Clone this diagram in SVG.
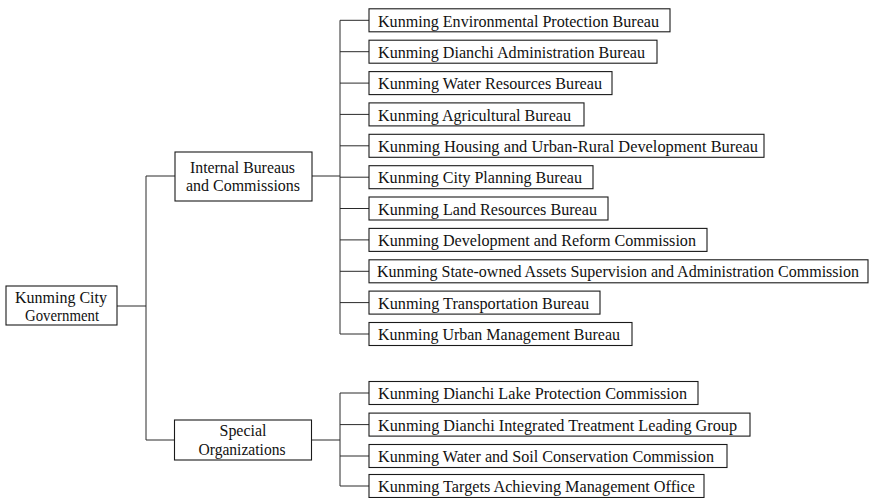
<svg xmlns="http://www.w3.org/2000/svg" width="871" height="498" viewBox="0 0 871 498">
<style>
.box{fill:#fff;stroke:#1a1a1a;stroke-width:1.1}
.ln{fill:none;stroke:#2a2a2a;stroke-width:1}
text{font-family:"Liberation Serif","Times New Roman",serif;font-size:17px;fill:#111}
.c{text-anchor:middle}
</style>
<rect width="871" height="498" fill="#fff"/>
<g id="connectors">
<path class="ln" d="M117 306H146M146 176V440M146 176H175M146 440H175"/>
<path class="ln" d="M312 176H340M340 20.3V334M340 20.3H369M340 51.7H369M340 83.1H369M340 114.4H369M340 145.8H369M340 177.2H369M340 208.5H369M340 239.9H369M340 271.3H369M340 302.6H369M340 334H369"/>
<path class="ln" d="M312 440H340M340 393V486M340 393H369M340 424.6H369M340 456H369M340 486H369"/>
</g>
<g id="gov"><rect class="box" x="6" y="286" width="111" height="39"/><text class="c" x="61" y="302.5" textLength="92" lengthAdjust="spacingAndGlyphs">Kunming City</text><text class="c" x="62" y="320.5" textLength="74" lengthAdjust="spacingAndGlyphs">Government</text></g>
<g id="internal"><rect class="box" x="175" y="152" width="137" height="49"/><text class="c" x="242.5" y="172.5" textLength="105" lengthAdjust="spacingAndGlyphs">Internal Bureaus</text><text class="c" x="243" y="191" textLength="114" lengthAdjust="spacingAndGlyphs">and Commissions</text></g>
<g id="special"><rect class="box" x="174.5" y="420" width="137" height="40"/><text class="c" x="243" y="436" textLength="47" lengthAdjust="spacingAndGlyphs">Special</text><text class="c" x="242" y="454.5" textLength="87" lengthAdjust="spacingAndGlyphs">Organizations</text></g>
<g id="b1"><rect class="box" x="369" y="8.8" width="301" height="23"/><text x="378" y="26.5" textLength="281" lengthAdjust="spacingAndGlyphs">Kunming Environmental Protection Bureau</text></g>
<g id="b2"><rect class="box" x="369" y="40.2" width="288" height="23"/><text x="378" y="57.9" textLength="267" lengthAdjust="spacingAndGlyphs">Kunming Dianchi Administration Bureau</text></g>
<g id="b3"><rect class="box" x="369" y="71.6" width="243" height="23"/><text x="378" y="89.3" textLength="224" lengthAdjust="spacingAndGlyphs">Kunming Water Resources Bureau</text></g>
<g id="b4"><rect class="box" x="369" y="102.9" width="215" height="23"/><text x="378" y="120.6" textLength="193" lengthAdjust="spacingAndGlyphs">Kunming Agricultural Bureau</text></g>
<g id="b5"><rect class="box" x="369" y="134.3" width="395" height="23"/><text x="378" y="152" textLength="380" lengthAdjust="spacingAndGlyphs">Kunming Housing and Urban-Rural Development Bureau</text></g>
<g id="b6"><rect class="box" x="369" y="165.7" width="224" height="23"/><text x="378" y="183.4" textLength="204" lengthAdjust="spacingAndGlyphs">Kunming City Planning Bureau</text></g>
<g id="b7"><rect class="box" x="369" y="197" width="239" height="23"/><text x="378" y="214.7" textLength="219" lengthAdjust="spacingAndGlyphs">Kunming Land Resources Bureau</text></g>
<g id="b8"><rect class="box" x="369" y="228.4" width="338" height="23"/><text x="378" y="246.1" textLength="318" lengthAdjust="spacingAndGlyphs">Kunming Development and Reform Commission</text></g>
<g id="b9"><rect class="box" x="369" y="259.8" width="499" height="23"/><text x="377" y="277.3" style="font-size:16px" textLength="482" lengthAdjust="spacingAndGlyphs">Kunming State-owned Assets Supervision and Administration Commission</text></g>
<g id="b10"><rect class="box" x="369" y="291.1" width="231" height="23"/><text x="378" y="308.8" textLength="211" lengthAdjust="spacingAndGlyphs">Kunming Transportation Bureau</text></g>
<g id="b11"><rect class="box" x="369" y="322.5" width="263" height="23"/><text x="378" y="340.2" textLength="242" lengthAdjust="spacingAndGlyphs">Kunming Urban Management Bureau</text></g>
<g id="s1"><rect class="box" x="369" y="381.5" width="329" height="23"/><text x="378" y="399.2" textLength="309" lengthAdjust="spacingAndGlyphs">Kunming Dianchi Lake Protection Commission</text></g>
<g id="s2"><rect class="box" x="369" y="413.1" width="381" height="23"/><text x="378" y="430.8" textLength="359" lengthAdjust="spacingAndGlyphs">Kunming Dianchi Integrated Treatment Leading Group</text></g>
<g id="s3"><rect class="box" x="369" y="444.5" width="358" height="23"/><text x="378" y="462.2" textLength="336" lengthAdjust="spacingAndGlyphs">Kunming Water and Soil Conservation Commission</text></g>
<g id="s4"><rect class="box" x="369" y="474.5" width="335" height="23"/><text x="378" y="492.2" textLength="317" lengthAdjust="spacingAndGlyphs">Kunming Targets Achieving Management Office</text></g>
</svg>
